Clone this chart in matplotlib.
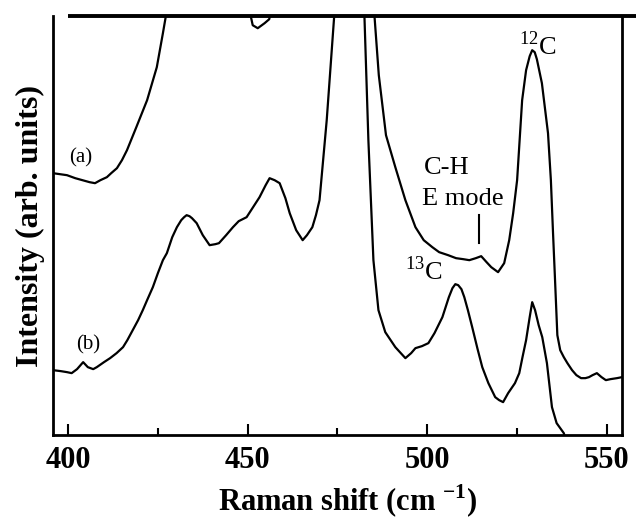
import matplotlib
matplotlib.use("Agg")
import matplotlib.pyplot as plt
import numpy as np

plt.rcParams['font.family'] = ['Liberation Serif', 'DejaVu Serif']
plt.rcParams['mathtext.fontset'] = 'custom'
plt.rcParams['mathtext.rm'] = 'Liberation Serif'
plt.rcParams['mathtext.bf'] = 'Liberation Serif:bold'

# spectrum (a): wavenumber (cm-1) and intensity (arb. units), values above 419 are off scale
shift_a = [395.8, 399.7, 402, 404, 406, 407.5, 409, 410.8, 412, 413.6, 415, 416.4,
           419, 422, 424.7, 426.4, 427.5, 430, 440, 449, 450.5, 451.4, 452.8, 454.7,
           456, 457.5, 465, 475, 484, 485.3, 486.5, 488.5, 491.1, 493.9, 496.7, 499,
           501.4, 503.3, 505.8, 508, 510, 511.7, 513.5, 515, 516.5, 517.8, 519.7,
           521.4, 522.8, 523.9, 525, 526.4, 527.5, 528.5, 529.2, 529.9, 530.5, 531.9,
           533.6, 534.4, 535, 535.5, 536.2, 537, 538, 539, 540.3, 541.5, 542.8, 544,
           545, 546, 547.2, 548.5, 549.7, 551, 552.8, 554.2]
inten_a = [262, 260, 257, 255, 253, 252, 255, 258, 262, 267, 275, 285,
           308, 335, 368, 402, 425, 470, 500, 470, 425, 410, 407, 412,
           416, 445, 520, 540, 470, 419, 360, 300, 268, 235, 208, 195,
           188, 183, 180, 177, 176, 175, 177, 179, 173, 168, 163,
           172, 195, 222, 255, 335, 365, 379, 385, 383, 376, 352,
           302, 255, 202, 160, 100, 85, 78, 72, 65, 60, 57, 57,
           58, 60, 62, 58, 55, 56, 57, 58]

# spectrum (b)
shift_b = [395.8, 398, 399.7, 401, 402.5, 404.2, 405.5, 407, 408, 410, 411.7, 413.5,
           415.3, 416.5, 418, 419.5, 420.8, 422, 423.6, 425, 426.4, 427.5, 429, 430.3,
           431.5, 432.3, 433, 433.8, 434.5, 435.8, 437.5, 439.4, 441, 442, 444, 445.9,
           447.5, 449.7, 451.5, 453.3, 455, 456.1, 457.5, 458.9, 460.5, 461.7, 463.5,
           465.3, 466.5, 468, 469, 470, 472, 473.6, 474.3, 478, 482, 482.5, 483.6, 485,
           486.4, 488.3, 491.1, 493.9, 495.5, 496.7, 498.5, 500.3, 502, 504.2, 506,
           507, 507.8, 508.6, 509.5, 510.3, 511.3, 512.5, 514, 515.3, 517, 518.9, 520,
           521.1, 522.5, 524.4, 525.6, 526.5, 527.5, 528.5, 529.2, 530, 531, 532, 533.3,
           534.7, 536, 538, 539]
inten_b = [65, 64, 63, 62, 66, 73, 68, 66, 68, 73, 77, 82,
           88, 95, 105, 115, 125, 135, 148, 162, 175, 182, 198, 208,
           215, 218, 220, 219, 217, 212, 200, 190, 191, 192, 200, 208,
           214, 218, 228, 238, 250, 257, 255, 252, 237, 222, 205,
           195, 200, 208, 220, 235, 315, 395, 430, 500, 440, 419, 295, 175,
           125, 103, 88, 77, 82, 87, 89, 92, 102, 118, 138,
           147, 151, 150, 146, 138, 125, 108, 86, 68, 52, 38, 35,
           33, 42, 52, 62, 78, 95, 118, 133, 125, 110, 98, 72,
           28, 12, 2, -10]

xmin, xmax = 395.8, 554.2
ymax = 419

fig = plt.figure(figsize=(6.36, 5.23), dpi=100)
ax = fig.add_axes([0.0833, 0.168, 0.8947, 0.801])

ax.plot(shift_a, inten_a, color='black', lw=1.6, solid_joinstyle='round')
ax.plot(shift_b, inten_b, color='black', lw=1.6, solid_joinstyle='round')

ax.set_xlim(xmin, xmax)
ax.set_ylim(0, ymax)

# frame: no top spine, a heavy line from 400 running off to the right instead
ax.spines['top'].set_visible(False)
for s in ['left', 'right', 'bottom']:
    ax.spines[s].set_linewidth(2)
ax.plot([400, 560], [ymax, ymax], color='black', lw=2.8, clip_on=False,
        solid_capstyle='butt')

ax.set_yticks([])
ax.set_xticks([400, 450, 500, 550])
ax.set_xticks([425, 475, 525], minor=True)
ax.tick_params(axis='x', which='major', direction='in', length=8, width=1.5,
               labelsize=22, pad=8)
ax.tick_params(axis='x', which='minor', direction='in', length=5, width=1.5)
for lab in ax.get_xticklabels():
    lab.set_fontweight('bold')

ax.set_xlabel(r'Raman shift (cm $^{\mathbf{-1}}$)', fontsize=22, fontweight='bold')
ax.xaxis.set_label_coords(0.518, -0.113)
ax.set_ylabel('Intensity (arb. units)', fontsize=23, fontweight='bold', labelpad=6)

ax.text(403.6, 277, '(a)', fontsize=15, ha='center', va='center')
ax.text(405.6, 90, '(b)', fontsize=15, ha='center', va='center')
ax.text(505.5, 267, 'C-H', fontsize=19, ha='center', va='center')
ax.text(510, 236, 'E mode', fontsize=19, ha='center', va='center')
ax.plot([514.4, 514.4], [192, 220], color='black', lw=1.5)
ax.text(530.8, 390, r'$^{12}$C', fontsize=19, ha='center', va='center')
ax.text(499, 165, r'$^{13}$C', fontsize=19, ha='center', va='center')

fig.savefig('out.png', dpi=100)
